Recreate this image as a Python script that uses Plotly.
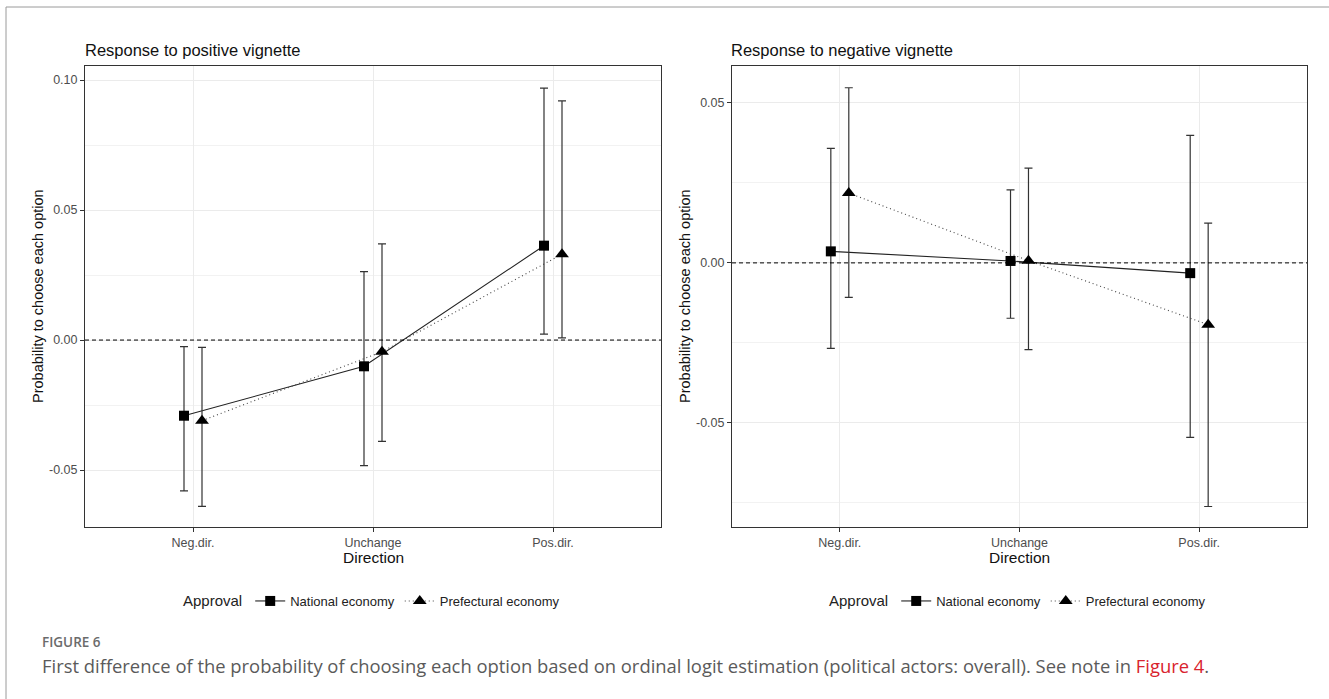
import plotly.graph_objects as go

# ---------------- data ----------------
categories = ["Neg.dir.", "Unchange", "Pos.dir."]
series_names = ["National economy", "Prefectural economy"]

# Left panel: Response to positive vignette
pos_national = [-0.0291, -0.0101, 0.0363]
pos_national_lo = [-0.0580, -0.0483, 0.0023]
pos_national_hi = [-0.0025, 0.0263, 0.0969]
pos_pref = [-0.0310, -0.0045, 0.0330]
pos_pref_lo = [-0.0640, -0.0390, 0.0008]
pos_pref_hi = [-0.0028, 0.0370, 0.0920]

# Right panel: Response to negative vignette
neg_national = [0.0036, 0.0006, -0.0032]
neg_national_lo = [-0.0267, -0.0173, -0.0545]
neg_national_hi = [0.0358, 0.0228, 0.0398]
neg_pref = [0.0218, 0.0007, -0.0193]
neg_pref_lo = [-0.0108, -0.0271, -0.0761]
neg_pref_hi = [0.0547, 0.0296, 0.0124]

left_ticks = [-0.05, 0.00, 0.05, 0.10]
left_ticktext = ["-0.05", "0.00", "0.05", "0.10"]
right_ticks = [-0.05, 0.00, 0.05]
right_ticktext = ["-0.05", "0.00", "0.05"]

panel_titles = ["Response to positive vignette", "Response to negative vignette"]

# ---------------- figure ----------------
W, H = 1329, 699
FONT = "Liberation Sans, Arial, sans-serif"
dodge = 0.05
xpos = [i + 1 for i in range(len(categories))]

def px_x(p):
    return p / W

def px_y(p):
    return 1 - p / H

fig = go.Figure()

def add_series(y, lo, hi, name, offset, symbol, size, dash, lcolor, xa, ya, legend):
    xs = [x + offset for x in xpos]
    fig.add_trace(go.Scatter(
        x=xs, y=y, name=name, mode="lines+markers",
        xaxis=xa, yaxis=ya, legend=legend,
        line=dict(color=lcolor, width=1.1, dash=dash),
        marker=dict(symbol=symbol, size=size, color="black"),
        error_y=dict(type="data", symmetric=False,
                     array=[h - v for h, v in zip(hi, y)],
                     arrayminus=[v - l for v, l in zip(y, lo)],
                     color="#333333", thickness=1.2, width=4),
    ))

add_series(pos_national, pos_national_lo, pos_national_hi, series_names[0], -dodge,
           "square", 10, "solid", "#222222", "x", "y", "legend")
add_series(pos_pref, pos_pref_lo, pos_pref_hi, series_names[1], dodge,
           "triangle-up", 12, "1px,3px", "#444444", "x", "y", "legend")
add_series(neg_national, neg_national_lo, neg_national_hi, series_names[0], -dodge,
           "square", 10, "solid", "#222222", "x2", "y2", "legend2")
add_series(neg_pref, neg_pref_lo, neg_pref_hi, series_names[1], dodge,
           "triangle-up", 12, "1px,3px", "#444444", "x2", "y2", "legend2")

left_dom_x = [px_x(85), px_x(661)]
right_dom_x = [px_x(732), px_x(1307)]
dom_y = [px_y(527), px_y(66)]

common_x = dict(range=[0.4, 3.6], tickvals=xpos, ticktext=categories,
                showgrid=True, gridcolor="#EBEBEB", gridwidth=1,
                showline=True, mirror=True, linecolor="#333333", linewidth=1,
                ticks="outside", ticklen=4, tickcolor="#333333",
                tickfont=dict(family=FONT, size=12.5, color="#4D4D4D"),
                zeroline=False)
common_y = dict(showgrid=True, gridcolor="#EBEBEB", gridwidth=1,
                showline=True, mirror=True, linecolor="#333333", linewidth=1,
                ticks="outside", ticklen=4, tickcolor="#333333",
                tickfont=dict(family=FONT, size=12.5, color="#4D4D4D"),
                zeroline=False,
                minor=dict(showgrid=True, gridcolor="#F2F2F2", gridwidth=1, dtick=0.025, tick0=0))

legend_common = dict(orientation="h", y=px_y(601), yanchor="middle",
                     title=dict(text="Approval", font=dict(family=FONT, size=15, color="#222222"), side="left"),
                     font=dict(family=FONT, size=13, color="#222222"), bgcolor="rgba(0,0,0,0)",
                     itemwidth=30, tracegroupgap=0)

fig.update_layout(
    width=W, height=H,
    margin=dict(l=0, r=0, t=0, b=0),
    paper_bgcolor="white", plot_bgcolor="white",
    font=dict(family=FONT, color="#222222"),
    xaxis=dict(domain=left_dom_x, anchor="y", **common_x),
    yaxis=dict(domain=dom_y, anchor="x", range=[-0.0719, 0.1054],
               tickvals=left_ticks, ticktext=left_ticktext, **common_y),
    xaxis2=dict(domain=right_dom_x, anchor="y2", **common_x),
    yaxis2=dict(domain=dom_y, anchor="x2", range=[-0.0825, 0.0615],
                tickvals=right_ticks, ticktext=right_ticktext, **common_y),
    legend=dict(x=px_x(373), xanchor="center", **legend_common),
    legend2=dict(x=px_x(1019), xanchor="center", **legend_common),
    showlegend=True,
)

# zero reference lines
for xr, yr in [("x domain", "y"), ("x2 domain", "y2")]:
    fig.add_shape(type="line", xref=xr, yref=yr, x0=0, x1=1, y0=0, y1=0,
                  line=dict(color="black", width=1, dash="4px,3px"), layer="above")

# outer frame
fig.add_shape(type="rect", xref="paper", yref="paper",
              x0=px_x(6), x1=1.01, y0=-0.01, y1=px_y(7),
              line=dict(color="#9a9a9a", width=1), fillcolor="rgba(0,0,0,0)")

ann = []
# panel titles
for t, x in zip(panel_titles, [83, 729]):
    ann.append(dict(text=t, x=px_x(x), y=px_y(50), xref="paper", yref="paper",
                    xanchor="left", yanchor="middle", showarrow=False,
                    font=dict(family=FONT, size=16.5, color="#111111")))
# x-axis titles
for x in [373, 1019]:
    ann.append(dict(text="Direction", x=px_x(x), y=px_y(557), xref="paper", yref="paper",
                    xanchor="center", yanchor="middle", showarrow=False,
                    font=dict(family=FONT, size=15.5, color="#111111")))
# y-axis titles
for x in [38, 685]:
    ann.append(dict(text="Probability to choose each option", x=px_x(x), y=px_y(296),
                    xref="paper", yref="paper", xanchor="center", yanchor="middle",
                    showarrow=False, textangle=-90,
                    font=dict(family=FONT, size=14.5, color="#111111")))
# caption
ann.append(dict(text="FIGURE 6", x=px_x(40), y=px_y(642), xref="paper", yref="paper",
                xanchor="left", yanchor="middle", showarrow=False,
                font=dict(family="Open Sans, sans-serif", size=13.5, color="#6b6b6b", weight=600)))
ann.append(dict(text="First difference of the probability of choosing each option based on ordinal logit "
                     "estimation (political actors: overall). See note in "
                     "<span style='color:#D9232D'>Figure 4</span>.",
                x=px_x(40), y=px_y(665), xref="paper", yref="paper",
                xanchor="left", yanchor="middle", showarrow=False,
                font=dict(family="Open Sans, sans-serif", size=18.4, color="#5a5a5a")))
fig.update_layout(annotations=ann)

fig.write_html("out.html")
